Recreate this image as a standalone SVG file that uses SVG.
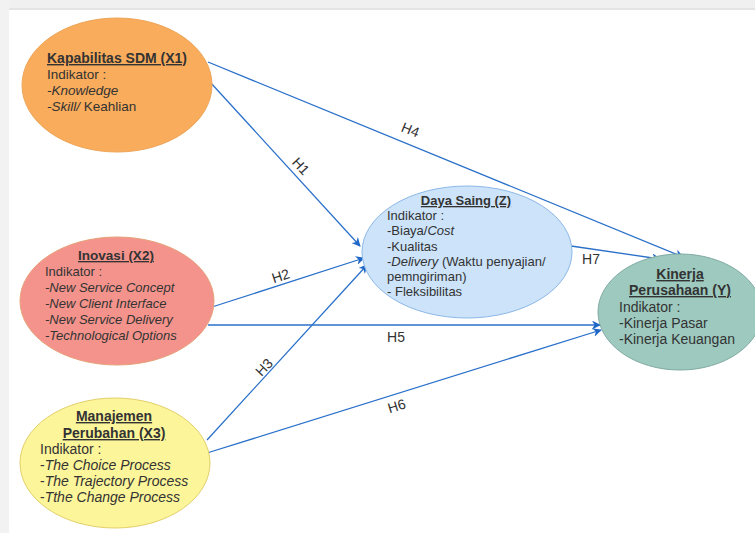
<svg xmlns="http://www.w3.org/2000/svg" width="755" height="533" viewBox="0 0 755 533">
<style>
text{font-family:"Liberation Sans",Arial,sans-serif;font-size:13px;fill:#333}
.t{font-weight:bold;text-decoration:underline}
.i{font-style:italic}
.b14 text{font-size:14px}
.lbl{font-size:14px;fill:#333}
.c{stroke:#2a70c9;stroke-width:1.3;fill:none;marker-end:url(#arr)}
</style>
<defs>
<marker id="arr" viewBox="0 0 10 10" refX="9" refY="5" markerWidth="9" markerHeight="9" orient="auto" markerUnits="userSpaceOnUse">
<path d="M0,0 L10,5 L0,10 L3,5 z" fill="#1f67c6"/>
</marker>
</defs>
<rect width="755" height="533" fill="#fff"/>
<rect x="0" y="0" width="755" height="9" fill="#f0f0f0"/>
<rect x="0" y="8" width="755" height="2" fill="#e4e4e4"/>
<rect x="0" y="0" width="9" height="533" fill="#f2f2f2"/>

<g id="connectors">
<line class="c" x1="208" y1="62" x2="683" y2="257"/>
<line class="c" x1="210" y1="82" x2="360" y2="246"/>
<line class="c" x1="212" y1="307" x2="364" y2="258"/>
<line class="c" x1="208" y1="325" x2="600" y2="325"/>
<line class="c" x1="207" y1="440" x2="367" y2="265"/>
<line class="c" x1="207" y1="453" x2="601" y2="330"/>
<line class="c" x1="571" y1="246" x2="660" y2="259"/>
<text class="lbl" transform="translate(410,131) rotate(22)" text-anchor="middle" dominant-baseline="middle">H4</text>
<text class="lbl" transform="translate(300,167) rotate(47)" text-anchor="middle" dominant-baseline="middle">H1</text>
<text class="lbl" transform="translate(281,277) rotate(-18)" text-anchor="middle" dominant-baseline="middle">H2</text>
<text class="lbl" transform="translate(265,368) rotate(-47)" text-anchor="middle" dominant-baseline="middle">H3</text>
<text class="lbl" x="396" y="338" text-anchor="middle" dominant-baseline="middle">H5</text>
<text class="lbl" transform="translate(397,407) rotate(-17)" text-anchor="middle" dominant-baseline="middle">H6</text>
<text class="lbl" x="591" y="260" text-anchor="middle" dominant-baseline="middle">H7</text>
</g>

<g id="x1">
<ellipse cx="117" cy="85" rx="95" ry="67" fill="#f9ac5b" stroke="#eda65a"/>
<text class="t" x="47" y="63" style="font-size:14px">Kapabilitas SDM (X1)</text>
<text x="47" y="79" style="font-size:13.5px">Indikator :</text>
<text x="47" y="95" style="font-size:13.5px"><tspan class="i">-Knowledge</tspan></text>
<text x="47" y="111" style="font-size:13.5px"><tspan class="i">-Skill/</tspan> Keahlian</text>
</g>

<g id="x2">
<ellipse cx="117" cy="301" rx="97" ry="64" fill="#f4938c" stroke="#e6a27a"/>
<text class="t" x="116" y="260" text-anchor="middle" style="font-size:13.5px">Inovasi (X2)</text>
<text x="45" y="276">Indikator :</text>
<text class="i" x="45" y="292">-New Service Concept</text>
<text class="i" x="45" y="308">-New Client Interface</text>
<text class="i" x="45" y="324">-New Service Delivery</text>
<text class="i" x="45" y="340">-Technological Options</text>
</g>

<g id="x3" class="b14">
<ellipse cx="115" cy="463" rx="95" ry="65" fill="#fcf59a" stroke="#e3cf6a"/>
<text class="t" x="114" y="421" text-anchor="middle">Manajemen </text>
<text class="t" x="114" y="438" text-anchor="middle">Perubahan (X3)</text>
<text x="40" y="454">Indikator :</text>
<text x="40" y="470">-<tspan class="i">The Choice Process</tspan></text>
<text x="40" y="486">-<tspan class="i">The Trajectory Process</tspan></text>
<text x="40" y="502">-<tspan class="i">Tthe Change Process</tspan></text>
</g>

<g id="z">
<ellipse cx="467" cy="252" rx="105" ry="66" fill="#cce3fa" stroke="#8db8e6"/>
<text class="t" x="466" y="205" text-anchor="middle">Daya Saing (Z)</text>
<text x="387" y="220">Indikator :</text>
<text x="387" y="235">-Biaya/<tspan class="i">Cost</tspan></text>
<text x="387" y="251">-Kualitas</text>
<text x="387" y="266">-<tspan class="i">Delivery</tspan> (Waktu penyajian/</text>
<text x="387" y="281">pemngiriman)</text>
<text x="387" y="296">- Fleksibilitas</text>
</g>

<g id="y" class="b14">
<ellipse cx="680" cy="312" rx="82" ry="58" fill="#9dc9bf" stroke="#80aaa3"/>
<text class="t" x="680" y="279" text-anchor="middle">Kinerja </text>
<text class="t" x="680" y="295" text-anchor="middle">Perusahaan (Y)</text>
<text x="619" y="312">Indikator :</text>
<text x="619" y="328">-Kinerja Pasar</text>
<text x="619" y="344">-Kinerja Keuangan</text>
</g>
</svg>
